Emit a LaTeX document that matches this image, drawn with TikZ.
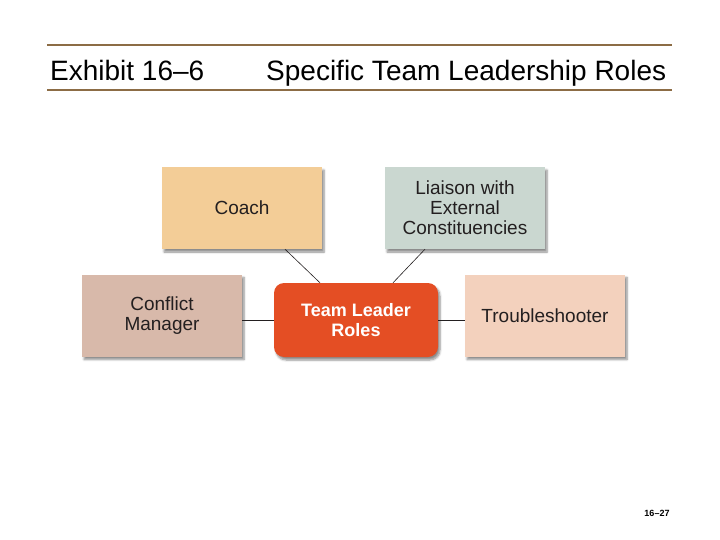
\documentclass[tikz,border=0pt]{standalone}
\usepackage{fontspec}
\setmainfont{Liberation Sans}
\usetikzlibrary{shadows.blur}
\definecolor{rulebrown}{HTML}{8C6C45}
\definecolor{coachfill}{HTML}{F3CD97}
\definecolor{liaisonfill}{HTML}{CAD7D0}
\definecolor{conflictfill}{HTML}{D8B9AA}
\definecolor{leaderfill}{HTML}{E44E24}
\definecolor{troublefill}{HTML}{F3D1BD}
\definecolor{inktext}{HTML}{231F20}
\begin{document}
\begin{tikzpicture}[x=1pt,y=-1pt,
  rolebox/.style={minimum width=160pt,minimum height=82pt,align=center,inner sep=0pt,
    text=inktext,font=\fontsize{19}{20}\selectfont,
    blur shadow={shadow xshift=2pt,shadow yshift=-3pt,shadow blur steps=6,shadow opacity=45}},
  leaderbox/.style={rolebox,minimum width=164pt,minimum height=74pt,rounded corners=10pt,
    fill=leaderfill,text=white,font=\bfseries\fontsize{18}{20}\selectfont},
  link/.style={draw=inktext,line width=0.6pt}]
\useasboundingbox (0,0) rectangle (720,540);
\draw[rulebrown,line width=2pt] (47,45) -- (672,45);
\draw[rulebrown,line width=2pt] (47,90) -- (672,90);
\node[anchor=base west,inner sep=0pt,font=\fontsize{28}{30}\selectfont] (exhibit) at (50,81) {Exhibit 16–6};
\node[anchor=base west,inner sep=0pt,font=\fontsize{28}{30}\selectfont] (title) at (266,81) {Specific Team Leadership Roles};
\node[rolebox,fill=coachfill] (coach) at (242,208) {Coach};
\node[rolebox,fill=liaisonfill] (liaison) at (465,208) {Liaison with\\External\\Constituencies};
\node[rolebox,fill=conflictfill] (conflict) at (162,315.5) {Conflict\\Manager};
\node[leaderbox] (leader) at (356,320) {Team Leader\\Roles};
\node[rolebox,fill=troublefill] (trouble) at (545,315.5) {Troubleshooter};
\draw[link] ([xshift=43pt]coach.south) -- ([xshift=-36pt]leader.north);
\draw[link] ([xshift=-40pt]liaison.south) -- ([xshift=37pt]leader.north);
\draw[link] (conflict.east |- leader.west) -- (leader.west);
\draw[link] (leader.east) -- (trouble.west |- leader.east);
\node[font=\bfseries\fontsize{9}{10}\selectfont] (pagenum) at (657,513) {16–27};
\end{tikzpicture}
\end{document}
